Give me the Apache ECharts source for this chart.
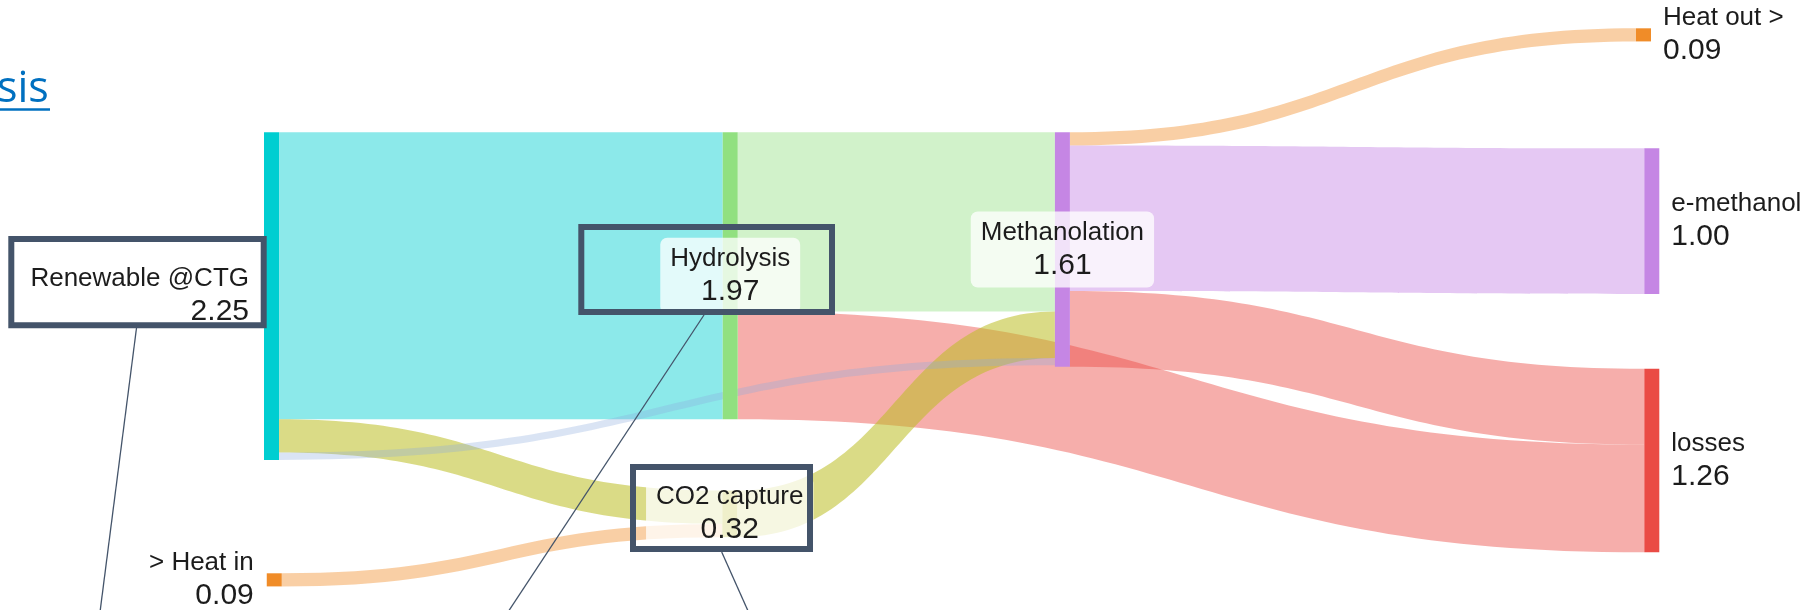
<!DOCTYPE html>
<html>
<head>
<meta charset="utf-8">
<script src="https://cdn.jsdelivr.net/npm/echarts@6/dist/echarts.min.js"></script>
<style>
  html, body { margin: 0; padding: 0; background: #ffffff; }
  #chart { width: 1816px; height: 610px; }
</style>
</head>
<body>
<div id="chart"></div>
<script>
// ---- Energy balance data (units of energy per unit of product) ----
const nodeNames  = ['Renewable @CTG', '> Heat in', 'CO2 capture', 'Hydrolysis', 'Methanolation', 'Heat out >', 'e-methanol', 'losses'];
const nodeValues = [2.25, 0.09, 0.32, 1.97, 1.61, 0.09, 1.00, 1.26];

// Flows; the order also fixes how bands stack inside each node
const linkSources = ['Renewable @CTG', 'Renewable @CTG', '> Heat in', 'Hydrolysis', 'Methanolation', 'Hydrolysis', 'Methanolation', 'Methanolation', 'CO2 capture', 'Renewable @CTG'];
const linkTargets = ['Hydrolysis', 'CO2 capture', 'CO2 capture', 'Methanolation', 'losses', 'losses', 'Heat out >', 'e-methanol', 'Methanolation', 'Methanolation'];
const linkValues  = [1.97, 0.23, 0.09, 1.23, 0.52, 0.74, 0.09, 1.00, 0.32, 0.05];

// ---- Layout: column (depth) and optional placement (fractions of the layout box) ----
const nodePlacement = {
  'Renewable @CTG': { depth: 0 },
  '> Heat in':      { depth: 0.006, localY: 1.05 },
  'CO2 capture':    { depth: 0.996, localY: 0.853 },
  'Hydrolysis':     { depth: 0.997 },
  'Methanolation':  { depth: 1.719 },
  'Heat out >':     { depth: 3, localX: 0.9833, localY: -0.2476 },
  'e-methanol':     { depth: 3, localY: 0.0381 },
  'losses':         { depth: 3 }
};

// ---- Styles ----
const nodeColors = {
  'Renewable @CTG': '#00CED1',
  '> Heat in':      '#F08C28',
  'CO2 capture':    '#BCBD22',
  'Hydrolysis':     '#91E080',
  'Methanolation':  '#C586E4',
  'Heat out >':     '#F08C28',
  'e-methanol':     '#C586E4',
  'losses':         '#EA4B45'
};
const labelSide = {
  'Renewable @CTG': 'left',
  '> Heat in':      'left',
  'CO2 capture':    'inside',
  'Hydrolysis':     'inside',
  'Methanolation':  'inside',
  'Heat out >':     'right',
  'e-methanol':     'right',
  'losses':         'right'
};
// band colour/opacity keyed "source|target"
const linkStyles = {
  'Renewable @CTG|Hydrolysis':   { color: '#00CED1', opacity: 0.45 },
  'Renewable @CTG|CO2 capture':  { color: '#BCBD22', opacity: 0.55 },
  '> Heat in|CO2 capture':       { color: '#F08C28', opacity: 0.42 },
  'Hydrolysis|Methanolation':    { color: '#91E080', opacity: 0.42 },
  'Methanolation|losses':        { color: '#EA4B45', opacity: 0.45 },
  'Hydrolysis|losses':           { color: '#EA4B45', opacity: 0.45 },
  'Methanolation|Heat out >':    { color: '#F08C28', opacity: 0.42 },
  'Methanolation|e-methanol':    { color: '#C586E4', opacity: 0.45 },
  'CO2 capture|Methanolation':   { color: '#BCBD22', opacity: 0.55 },
  'Renewable @CTG|Methanolation':{ color: '#8CAADC', opacity: 0.32 }
};

const FONT = '"Liberation Sans", Arial, Helvetica, sans-serif';
const TEXT = '#1c1c1c';
const EDGE = '#44546A';

const richText = {
  n: { fontSize: 26, lineHeight: 32, color: TEXT, fontFamily: FONT },
  v: { fontSize: 30, lineHeight: 34, color: TEXT, fontFamily: FONT }
};

function nodeLabel(name) {
  const side = labelSide[name];
  const base = {
    show: true,
    position: side,
    formatter: p => '{n|' + p.name + '}\n{v|' + Number(p.value).toFixed(2) + '}',
    rich: richText
  };
  if (side === 'inside') {
    return Object.assign(base, {
      backgroundColor: 'rgba(255,255,255,0.76)',
      borderRadius: 7,
      padding: [5, 10]
    });
  }
  if (side === 'left') {
    return Object.assign(base, { distance: name === '> Heat in' ? 13 : 15 });
  }
  return Object.assign(base, { distance: 12 });
}

const nodes = nodeNames.map((name, i) => Object.assign({
  name: name,
  value: nodeValues[i],
  itemStyle: { color: nodeColors[name], borderWidth: 0 },
  label: nodeLabel(name)
}, nodePlacement[name]));

const links = linkSources.map((s, i) => {
  const t = linkTargets[i];
  const st = linkStyles[s + '|' + t];
  return {
    source: s,
    target: t,
    value: linkValues[i],
    lineStyle: { color: st.color, opacity: st.opacity, curveness: 0.5 }
  };
});

// ---- Callout frames and leader lines ----
function frame(x, y, w, h) {
  return { type: 'rect', z: 100, silent: true,
    shape: { x: x, y: y, width: w, height: h },
    style: { fill: null, stroke: EDGE, lineWidth: 6 } };
}
function leader(x1, y1, x2, y2) {
  return { type: 'line', z: 100, silent: true,
    shape: { x1: x1, y1: y1, x2: x2, y2: y2 },
    style: { stroke: EDGE, lineWidth: 1.3 } };
}

const chart = echarts.init(document.getElementById('chart'), null, { renderer: 'canvas' });
chart.setOption({
  backgroundColor: '#ffffff',
  animation: false,
  series: [{
    type: 'sankey',
    left: 264,
    top: 132.3,
    width: 1395.3,
    height: 420,
    nodeWidth: 15,
    nodeGap: 38.92,
    nodeAlign: 'left',
    layoutIterations: 0,
    draggable: false,
    emphasis: { disabled: true },
    data: nodes,
    links: links
  }],
  graphic: [
    // heading fragment (hyperlink style)
    { type: 'text', z: 100, silent: true, x: -3, y: 68,
      style: { text: 'sis', font: '43px "Open Sans", "Noto Sans", sans-serif', fill: '#0070C0',
               verticalAlign: 'top' } },
    { type: 'rect', z: 100, silent: true,
      shape: { x: 0, y: 108.3, width: 50, height: 2.5 },
      style: { fill: '#0070C0' } },
    frame(11.3, 239, 252.4, 86.3),
    frame(581.3, 227, 250.7, 85),
    frame(633, 467, 177, 82),
    leader(136.5, 328, 100, 612),
    leader(704, 315, 508, 612),
    leader(721.7, 552, 748.5, 612)
  ]
});
</script>
</body>
</html>
